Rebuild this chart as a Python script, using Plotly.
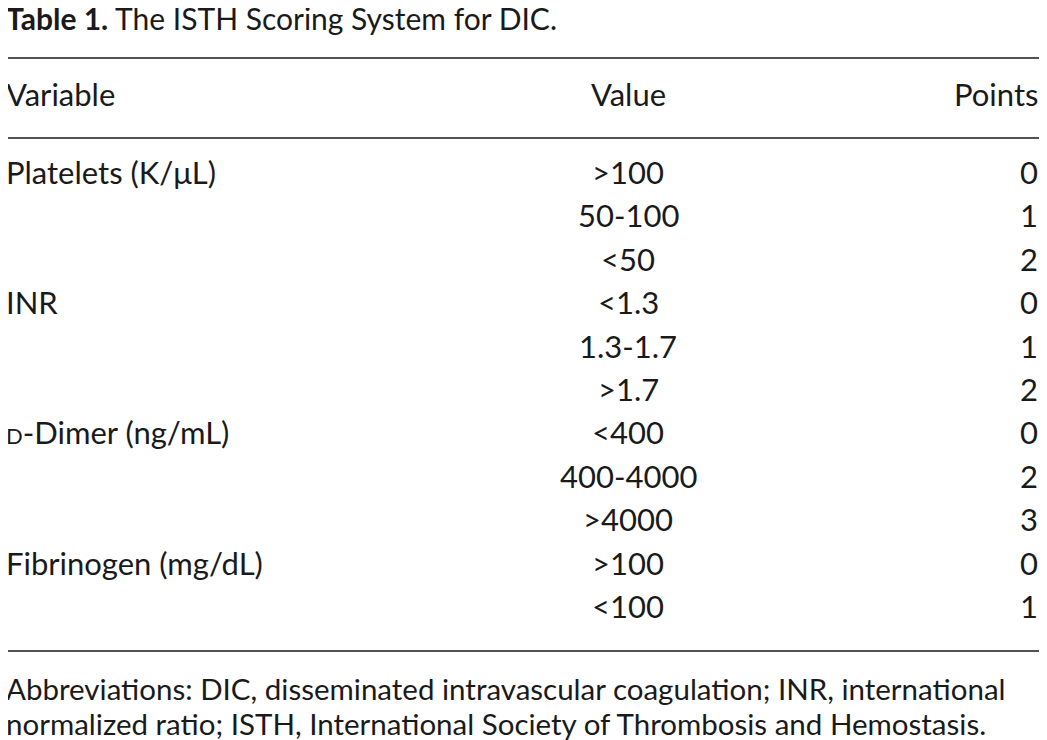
import plotly.graph_objects as go

title = "<b>Table 1.</b> The ISTH Scoring System for DIC."
headers = ["Variable", "Value", "Points"]
variables = ["Platelets (K/μL)", "", "", "INR", "", "",
             "<span style='font-size:22px'>D</span>-Dimer (ng/mL)", "", "",
             "Fibrinogen (mg/dL)", ""]
values = [">100", "50-100", "<50", "<1.3", "1.3-1.7", ">1.7",
          "<400", "400-4000", ">4000", ">100", "<100"]
points = ["0", "1", "2", "0", "1", "2", "0", "2", "3", "0", "1"]
footnote = ["Abbreviations: DIC, disseminated intravascular coagulation; INR, international",
            "normalized ratio; ISTH, International Society of Thrombosis and Hemostasis."]

W, H = 1047, 740
FONT = dict(family="Lato, Open Sans, sans-serif", size=31, color="#1a1a1a")

fig = go.Figure()
ann = []


def txt(x, y, s, anchor, size=31):
    shift = {"left": -3, "center": 0, "right": 3}[anchor]
    ann.append(dict(x=x, y=y, text=s, xref="x", yref="y", showarrow=False,
                    xanchor=anchor, yanchor="middle", borderpad=0, xshift=shift,
                    yshift=6, font=dict(FONT, size=size)))


txt(0, 16, title, "left", 30)
txt(0, 92, headers[0], "left")
txt(620, 92, headers[1], "center")
txt(1028, 92, headers[2], "right")

row0, step = 170, 43.4
for i, (v, val, p) in enumerate(zip(variables, values, points)):
    y = row0 + i * step
    if v:
        txt(0, y, v, "left")
    txt(620, y, val, "center")
    txt(1028, y, p, "right")

for i, line in enumerate(footnote):
    txt(0, 686 + i * 35, line, "left", 29.5)

shapes = [dict(type="line", x0=0, x1=W, y0=y, y1=y, xref="x", yref="y",
               line=dict(color="#1a1a1a", width=1.5)) for y in (50, 130, 643)]

fig.update_layout(width=W, height=H, margin=dict(l=0, r=0, t=0, b=0),
                  plot_bgcolor="white", paper_bgcolor="white",
                  annotations=ann, shapes=shapes, showlegend=False)
fig.update_xaxes(range=[0, W], visible=False, fixedrange=True)
fig.update_yaxes(range=[H, 0], visible=False, fixedrange=True)
fig.write_html("out.html")
